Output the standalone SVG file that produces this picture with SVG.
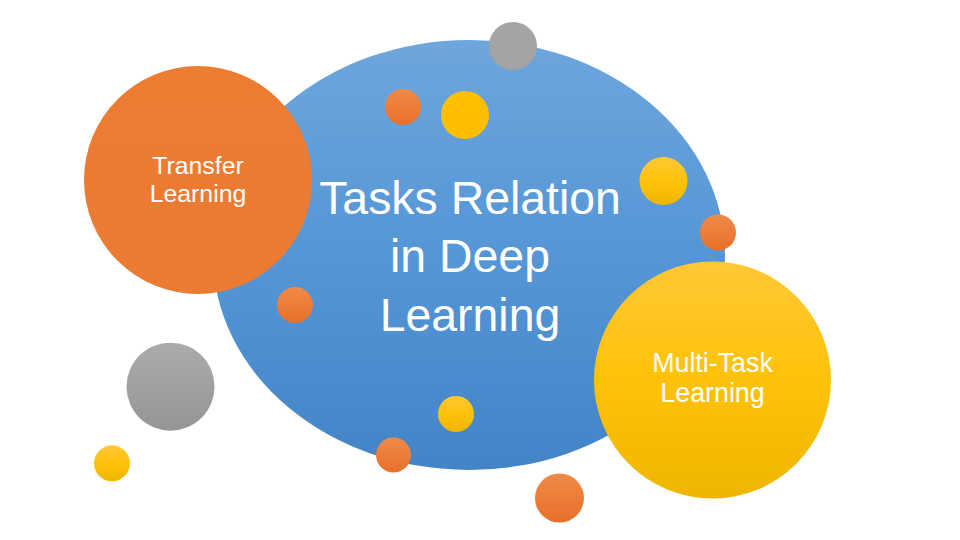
<svg xmlns="http://www.w3.org/2000/svg" width="960" height="540" viewBox="0 0 960 540">
<defs>
<linearGradient id="gBlue" x1="0" y1="0" x2="0" y2="1"><stop offset="0" stop-color="#6EA6DC"/><stop offset="0.5" stop-color="#5496D6"/><stop offset="1" stop-color="#4384C6"/></linearGradient>
<linearGradient id="gOrange" x1="0" y1="0" x2="0" y2="1"><stop offset="0" stop-color="#F08A48"/><stop offset="1" stop-color="#E8702A"/></linearGradient>
<linearGradient id="gOrangeBig" x1="0" y1="0" x2="0" y2="1"><stop offset="0" stop-color="#ED7D31"/><stop offset="1" stop-color="#EB7A33"/></linearGradient>
<linearGradient id="gYellow" x1="0" y1="0" x2="0" y2="1"><stop offset="0" stop-color="#FFC835"/><stop offset="0.5" stop-color="#FFC20A"/><stop offset="1" stop-color="#EEB600"/></linearGradient>
<linearGradient id="gYellowFlat" x1="0" y1="0" x2="0" y2="1"><stop offset="0" stop-color="#FFC000"/><stop offset="1" stop-color="#FFBE00"/></linearGradient>
<linearGradient id="gGray" x1="0" y1="0" x2="0" y2="1"><stop offset="0" stop-color="#ABABAB"/><stop offset="1" stop-color="#959595"/></linearGradient>
<linearGradient id="gGrayFlat" x1="0" y1="0" x2="0" y2="1"><stop offset="0" stop-color="#A5A5A5"/><stop offset="1" stop-color="#A3A3A3"/></linearGradient>
</defs>
<style>
.lbl{font-family:"Liberation Sans",Arial,sans-serif;fill:#FFFFFF;text-anchor:middle}
.big{font-size:46.4px}
.mid{font-size:24.8px}
.mid2{font-size:26.8px}
</style>
<rect x="0" y="0" width="960" height="540" fill="#FFFFFF"/>
<g id="tasks-relation">
<ellipse cx="469" cy="255" rx="256" ry="215" fill="url(#gBlue)"/>
<text class="lbl big" x="470" y="214">Tasks Relation</text>
<text class="lbl big" x="470" y="272">in Deep</text>
<text class="lbl big" x="470" y="331">Learning</text>
</g>
<g id="transfer-learning">
<circle cx="198" cy="180" r="114" fill="url(#gOrangeBig)"/>
<text class="lbl mid" x="198" y="174">Transfer</text>
<text class="lbl mid" x="198" y="202">Learning</text>
</g>
<g id="multi-task-learning">
<circle cx="712.5" cy="380" r="118.5" fill="url(#gYellow)"/>
<text class="lbl mid2" x="712.5" y="372">Multi-Task</text>
<text class="lbl mid2" x="712.5" y="402">Learning</text>
</g>
<g id="decor">
<circle cx="513" cy="46" r="24" fill="url(#gGrayFlat)"/>
<circle cx="403" cy="107" r="18" fill="url(#gOrange)"/>
<circle cx="465" cy="115" r="24" fill="url(#gYellowFlat)"/>
<circle cx="663.5" cy="181" r="24" fill="url(#gYellow)"/>
<circle cx="718" cy="232.5" r="18" fill="url(#gOrange)"/>
<circle cx="295" cy="305" r="18" fill="url(#gOrange)"/>
<circle cx="170.5" cy="386.7" r="44" fill="url(#gGray)"/>
<circle cx="112" cy="463.3" r="18" fill="url(#gYellow)"/>
<circle cx="456" cy="414" r="18" fill="url(#gYellow)"/>
<circle cx="393.5" cy="455" r="17.5" fill="url(#gOrange)"/>
<circle cx="559.5" cy="498" r="24.5" fill="url(#gOrange)"/>
</g>
<g id="connectors"/>
</svg>
